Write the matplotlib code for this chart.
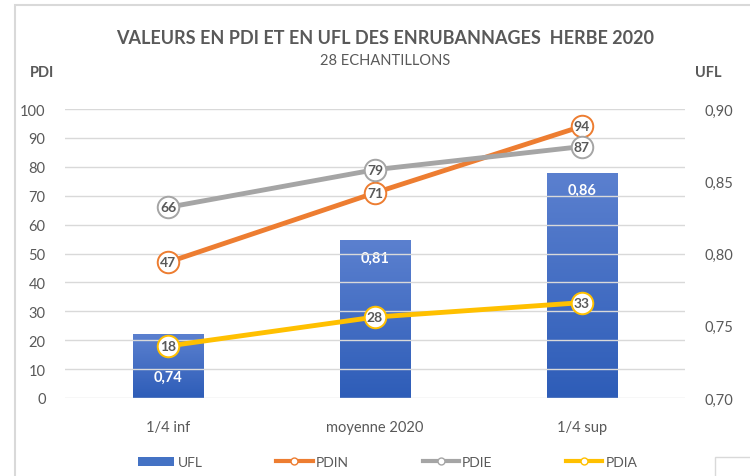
import matplotlib.pyplot as plt
import numpy as np
from matplotlib.colors import LinearSegmentedColormap
from matplotlib.lines import Line2D
from matplotlib.patches import Patch, Rectangle

plt.rcParams['font.family'] = ['Lato', 'DejaVu Sans']

# data
categories = ['1/4 inf', 'moyenne 2020', '1/4 sup']
ufl = [0.744, 0.809, 0.856]
ufl_labels = ['0,74', '0,81', '0,86']
pdin = [47, 71, 94]
pdie = [66, 79, 87]
pdia = [18, 28, 33]

pdi_ticks = list(range(0, 101, 10))
ufl_ticks = [0.70, 0.75, 0.80, 0.85, 0.90]
ufl_tick_labels = ['0,70', '0,75', '0,80', '0,85', '0,90']

TXT = '#595959'
GRID = '#d9d9d9'
C_PDIN = '#ED7D31'
C_PDIE = '#A5A5A5'
C_PDIA = '#FFC000'

fig = plt.figure(figsize=(7.5, 4.77), dpi=100)
# left axis = PDI, right axis = UFL (bars)
ax = fig.add_axes([65 / 750, 78 / 477, 620 / 750, 289 / 477])
ax2 = ax.twinx()

x = np.arange(len(categories))
ax.set_xlim(-0.5, 2.5)
ax.set_ylim(0, 100)

for y in pdi_ticks:
    ax.axhline(y, color=GRID, lw=1, zorder=0)

# bars with a vertical gradient, drawn on the UFL axis
grad = np.linspace(0, 1, 100).reshape(-1, 1)
cmap = LinearSegmentedColormap.from_list('blu', ['#2E5DB8', '#5B80CF'])
bw = 0.34
for xi, v in zip(x, ufl):
    r = Rectangle((xi - bw / 2, 0.70), bw, v - 0.70, facecolor='none', edgecolor='none')
    ax2.add_patch(r)
    im = ax2.imshow(grad, cmap=cmap, origin='lower', aspect='auto',
                    extent=(xi - bw / 2, xi + bw / 2, 0.70, v), zorder=1)
    im.set_clip_path(r)

# label of first bar sits low, below the PDIA marker
label_y = [0.715, ufl[1] - 0.012, ufl[2] - 0.012]
for xi, ly, lab in zip(x, label_y, ufl_labels):
    ax2.text(xi, ly, lab, ha='center', va='center', color='white',
             fontsize=10.5, fontweight='bold', zorder=2)
ax2.set_xlim(-0.5, 2.5)
ax2.set_ylim(0.70, 0.90)

# lines on top of the bars: move PDI axis above
ax.set_zorder(ax2.get_zorder() + 1)
ax.patch.set_visible(False)

for vals, col in [(pdin, C_PDIN), (pdie, C_PDIE), (pdia, C_PDIA)]:
    ax.plot(x, vals, color=col, lw=3.5, solid_capstyle='round', zorder=3)
    ax.plot(x, vals, 'o', ms=15.5, mfc='white', mec=col, mew=1.4, zorder=4)
    for xi, v in zip(x, vals):
        ax.text(xi, v, str(v), ha='center', va='center', color=TXT,
                fontsize=10, fontweight='bold', zorder=5)

ax.set_xticks(x)
ax.set_xticklabels(categories, fontsize=10.5, color=TXT)
ax.set_yticks(pdi_ticks)
ax.set_yticklabels([str(t) for t in pdi_ticks], fontsize=10.5, color=TXT)
ax2.set_yticks(ufl_ticks)
ax2.set_yticklabels(ufl_tick_labels, fontsize=10.5, color=TXT)
ax.tick_params(length=0, pad=14)
ax.tick_params(axis='x', pad=16)
ax2.tick_params(length=0, pad=14)
for a in (ax, ax2):
    for s in a.spines.values():
        s.set_visible(False)

fig.text(0.513, 1 - 38 / 477, 'VALEURS EN PDI ET EN UFL DES ENRUBANNAGES  HERBE 2020',
         ha='center', va='center', fontsize=13, fontweight='bold', color=TXT)
fig.text(0.513, 1 - 61 / 477, '28 ECHANTILLONS', ha='center', va='center',
         fontsize=10.5, color=TXT)
fig.text(42 / 750, 1 - 73 / 477, 'PDI', ha='center', va='center', fontsize=10.5,
         fontweight='bold', color=TXT)
fig.text(708 / 750, 1 - 73 / 477, 'UFL', ha='center', va='center', fontsize=10.5,
         fontweight='bold', color=TXT)

handles = [
    Patch(facecolor='#4472C4', edgecolor='none'),
    Line2D([], [], color=C_PDIN, lw=3, marker='o', ms=5, mfc='white', mec=C_PDIN),
    Line2D([], [], color=C_PDIE, lw=3, marker='o', ms=5, mfc='white', mec=C_PDIE),
    Line2D([], [], color=C_PDIA, lw=3, marker='o', ms=5, mfc='white', mec=C_PDIA),
]
fig.legend(handles, ['UFL', 'PDIN', 'PDIE', 'PDIA'], loc='center',
           bbox_to_anchor=(388 / 750, 1 - 463 / 477), ncol=4, frameon=False,
           fontsize=10, labelcolor=TXT, handlelength=2.6, handletextpad=0.25,
           columnspacing=5.3, handleheight=0.6)

# chart border (open at the bottom) and the small box in the corner
fig.add_artist(Rectangle((15 / 750, -20 / 477), 740 / 750, 491 / 477,
                         transform=fig.transFigure, fill=False,
                         edgecolor='#d9d9d9', lw=1.5))
fig.add_artist(Rectangle((715 / 750, -5 / 477), 40 / 750, 24 / 477,
                         transform=fig.transFigure, fill=False,
                         edgecolor='#d9d9d9', lw=1))

fig.savefig('out.png', dpi=100)
